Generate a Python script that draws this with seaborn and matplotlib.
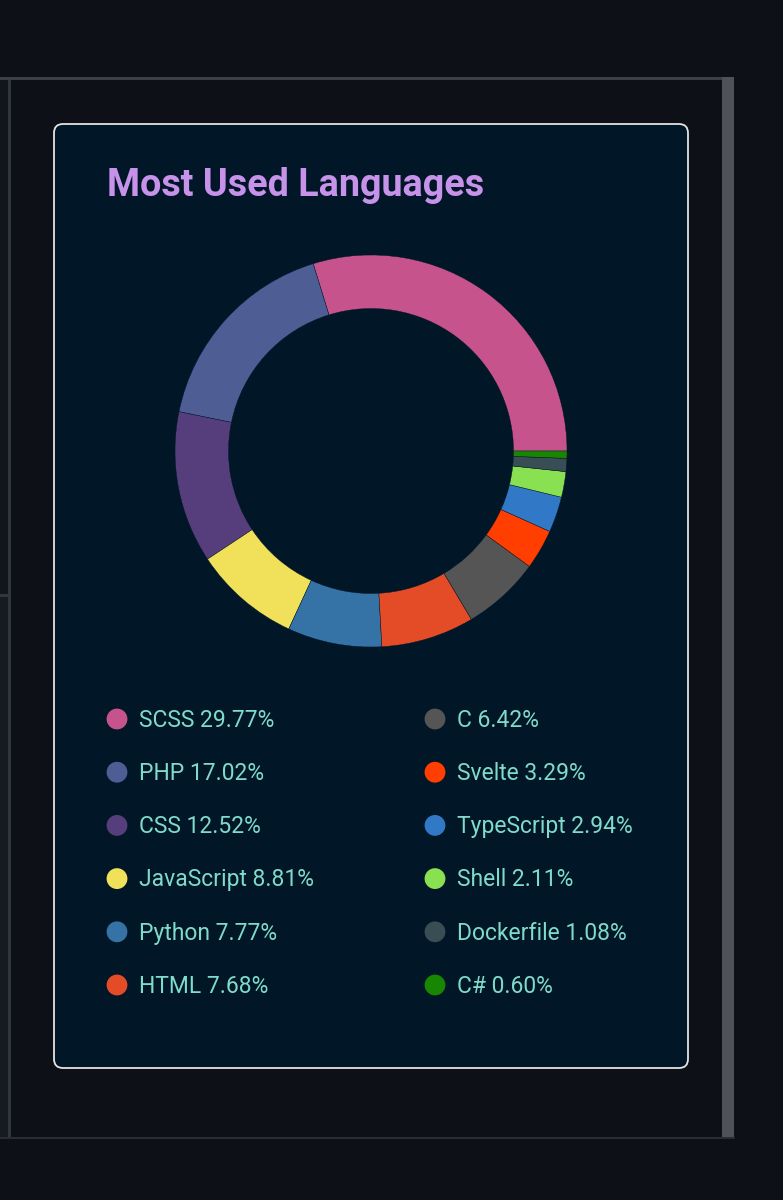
import matplotlib

matplotlib.use("Agg")
import matplotlib.pyplot as plt
import numpy as np
import pandas as pd
import seaborn as sns
from matplotlib.patches import FancyBboxPatch, Rectangle

# Language share data (percent)
languages = ["SCSS", "PHP", "CSS", "JavaScript", "Python", "HTML",
             "C", "Svelte", "TypeScript", "Shell", "Dockerfile", "C#"]
shares = [29.77, 17.02, 12.52, 8.81, 7.77, 7.68, 6.42, 3.29, 2.94, 2.11, 1.08, 0.60]
lang_colors = ["#c6538c", "#4f5d95", "#563d7c", "#f1e05a", "#3572a5", "#e34c26",
               "#555555", "#ff3e00", "#3178c6", "#89e051", "#384d54", "#178600"]

title_text = "Most Used Languages"

# Theme colours (night owl)
page_bg = "#0d1117"
card_bg = "#011627"
title_color = "#c792ea"
text_color = "#7fdbca"
border_color = "#e4e2e2"

sns.set_theme(style="dark")
plt.rcParams["font.family"] = ["Roboto", "DejaVu Sans"]

W, H = 783, 1200
fig = plt.figure(figsize=(W / 100, H / 100), dpi=100, facecolor=page_bg)

# Background axes in pixel coordinates
bg = fig.add_axes([0, 0, 1, 1])
bg.set_xlim(0, W)
bg.set_ylim(H, 0)
bg.axis("off")
bg.set_facecolor(page_bg)

# page chrome around the card
bg.add_patch(Rectangle((0, 79), 8, 516, color="#12151b", lw=0))
bg.add_patch(Rectangle((0, 597), 8, 540, color="#171b21", lw=0))
bg.add_patch(Rectangle((0, 594), 8, 3, color="#30363d", lw=0))
bg.add_patch(Rectangle((8, 78), 3, 1060, color="#30363d", lw=0))
bg.add_patch(Rectangle((0, 77), 722, 3, color="#3b3f45", lw=0))
bg.add_patch(Rectangle((0, 1137), 735, 2, color="#2a2e34", lw=0))
bg.add_patch(Rectangle((722, 77), 12, 1060, color="#4e5156", lw=0))

# card
card = FancyBboxPatch((54, 124), 634, 944, boxstyle="round,pad=0,rounding_size=9",
                      facecolor=card_bg, edgecolor=border_color, linewidth=1.3)
bg.add_patch(card)

bg.text(107, 196, title_text, color=title_color, fontsize=27.2,
        fontweight="bold", ha="left", va="baseline")

# Donut chart
cx, cy, r = 371, 451, 196
pie_ax = fig.add_axes([(cx - r) / W, 1 - (cy + r) / H, 2 * r / W, 2 * r / H])
pie_ax.pie(shares, colors=lang_colors, startangle=0, counterclock=True,
           wedgeprops=dict(width=0.273, edgecolor=card_bg, linewidth=0.3))
pie_ax.set_xlim(-1, 1)
pie_ax.set_ylim(-1, 1)
pie_ax.set_aspect("equal")
pie_ax.axis("off")

# Legend: two columns of six rows
legend_df = pd.DataFrame({"lang": languages, "share": shares})
idx = np.arange(len(languages))
legend_df["col"] = idx // 6
legend_df["row"] = idx % 6
legend_df["px"] = 117 + legend_df["col"] * 318
legend_df["py"] = 719 + legend_df["row"] * 53.2

sns.scatterplot(data=legend_df, x="px", y="py", hue="lang",
                palette=dict(zip(languages, lang_colors)), s=225,
                edgecolor="none", legend=False, ax=bg)
bg.set_xlim(0, W)
bg.set_ylim(H, 0)
bg.axis("off")

for _, row in legend_df.iterrows():
    bg.text(row["px"] + 22, row["py"] + 7.8, f"{row['lang']} {row['share']:.2f}%",
            color=text_color, fontsize=16.5, ha="left", va="baseline")

fig.savefig("out.png", dpi=100, facecolor=page_bg)
